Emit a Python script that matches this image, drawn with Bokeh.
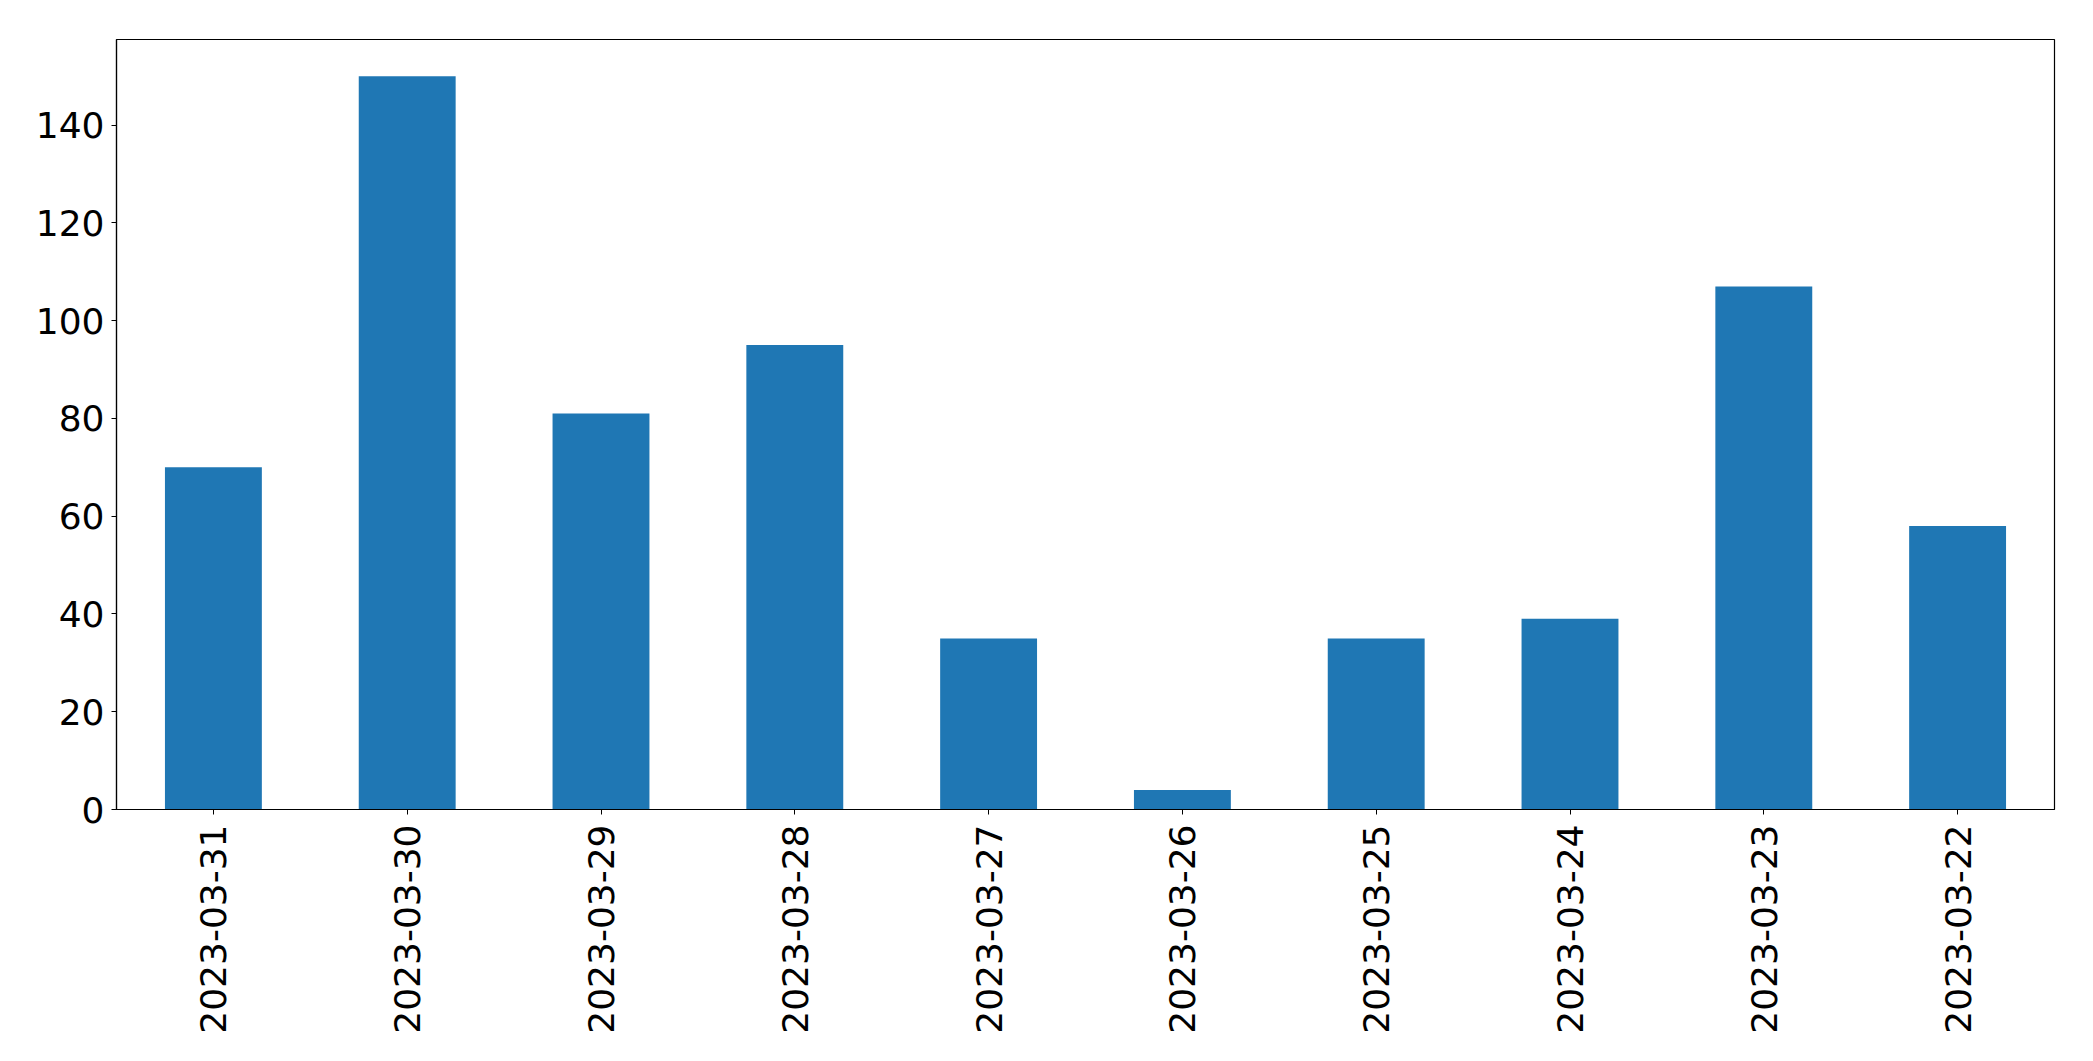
import math
from bokeh.plotting import figure
from bokeh.models import Range1d, FactorRange, ColumnDataSource
from bokeh.embed import file_html
from bokeh.resources import INLINE

dates = ["2023-03-31", "2023-03-30", "2023-03-29", "2023-03-28", "2023-03-27",
         "2023-03-26", "2023-03-25", "2023-03-24", "2023-03-23", "2023-03-22"]
counts = [70, 150, 81, 95, 35, 4, 35, 39, 107, 58]
y_ticks = [0, 20, 40, 60, 80, 100, 120, 140]

src = ColumnDataSource(dict(x=dates, top=counts))

p = figure(width=2077, height=1045, output_backend="svg", toolbar_location=None,
           x_range=FactorRange(factors=dates, range_padding=0),
           y_range=Range1d(0, max(counts) * 1.05),
           min_border_left=116, min_border_right=23, min_border_top=39, min_border_bottom=236)

p.vbar(x="x", top="top", width=0.5, source=src, fill_color="#1f77b4", line_color=None)

p.xgrid.visible = False
p.ygrid.visible = False
p.outline_line_color = "black"
p.outline_line_width = 1.2
p.outline_line_alpha = 1

for ax in (p.xaxis[0], p.yaxis[0]):
    ax.axis_line_color = "black"
    ax.axis_line_width = 1.2
    ax.major_tick_line_color = "black"
    ax.major_tick_in = 0
    ax.major_tick_out = 5
    ax.minor_tick_line_color = None
    ax.major_label_text_font = "DejaVu Sans"
    ax.major_label_text_font_size = "36px"
    ax.major_label_text_color = "black"

p.yaxis[0].ticker = y_ticks
p.yaxis[0].major_label_standoff = 7
p.xaxis[0].major_label_orientation = math.pi / 2
p.xaxis[0].major_label_standoff = 10

open("out.html", "w").write(file_html(p, INLINE))
